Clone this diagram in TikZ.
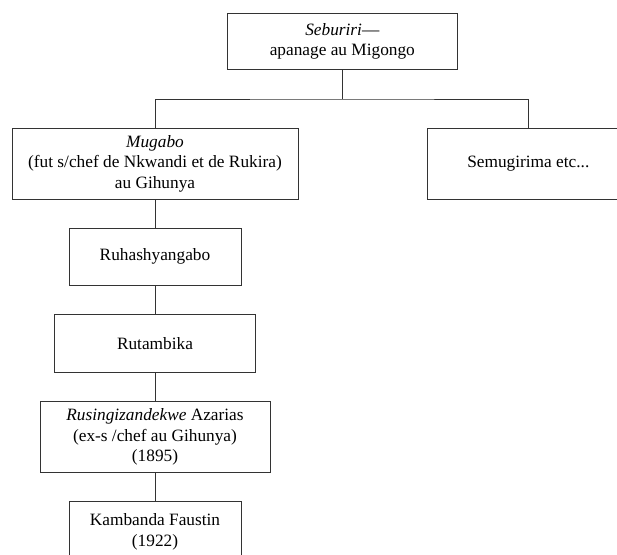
\documentclass[tikz,border=0pt]{standalone}
\usepackage{fontspec}
\setmainfont{Liberation Serif}
\begin{document}
\begin{tikzpicture}[x=1pt,y=-1pt,
  box/.style={draw=black!80, line width=1pt, align=center, inner sep=0pt,
    font=\fontsize{17.3}{20.8}\selectfont},
  link/.style={draw=black!80, line width=1pt}]
\useasboundingbox (0,0) rectangle (617,554);

% genealogy boxes
\node[box, minimum width=230, minimum height=56] (seb) at (342.3,41.3)
  {\textit{Seburiri}---\\apanage au Migongo};
\node[box, minimum width=286, minimum height=71] (mug) at (155,163.8)
  {\textit{Mugabo}\\(fut s/chef de Nkwandi et de Rukira)\\au Gihunya};
\node[box, minimum width=201, minimum height=71] (sem) at (528.3,163.8)
  {Semugirima etc...};
\node[box, minimum width=172, minimum height=56.7] (ruh) at (155,256.7)
  {Ruhashyangabo};
\node[box, minimum width=201.4, minimum height=58] (rut) at (155,343.3)
  {Rutambika};
\node[box, minimum width=230, minimum height=70.6] (rus) at (155,437)
  {\textit{Rusingizandekwe} Azarias\\(ex-s /chef au Gihunya)\\(1895)};
\node[box, minimum width=172, minimum height=62] (kam) at (155,532)
  {Kambanda Faustin\\(1922)};

% descent lines
\coordinate (j) at (342.3,99);
\draw[link] (seb.south) -- (j);
\draw[link] (mug.north) |- (j) -| (sem.north);
\draw[link] (mug.south) -- (ruh.north);
\draw[link] (ruh.south) -- (rut.north);
\draw[link] (rut.south) -- (rus.north);
\draw[link] (rus.south) -- (kam.north);
\end{tikzpicture}
\end{document}
